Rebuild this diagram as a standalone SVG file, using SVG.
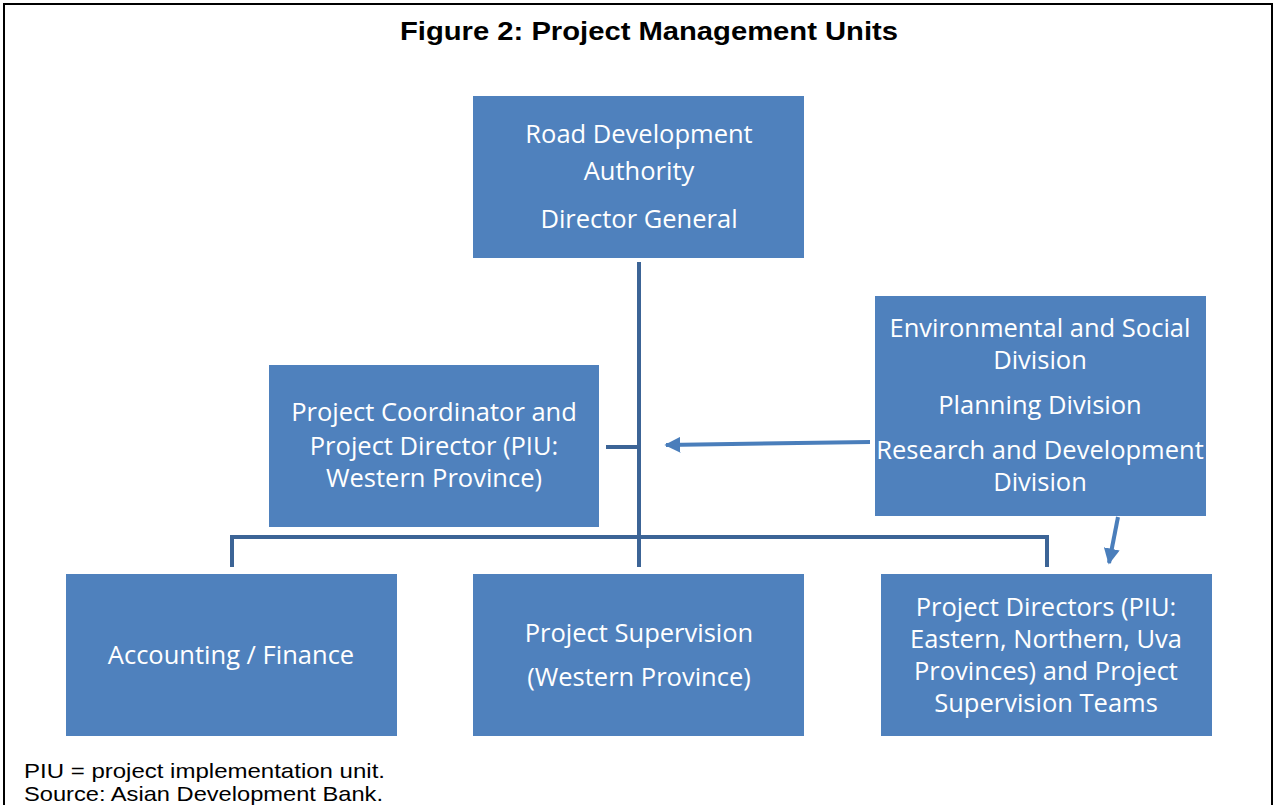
<svg xmlns="http://www.w3.org/2000/svg" width="1276" height="805" viewBox="0 0 1276 805">
<style>
.box{fill:#4F81BD}
.t{font-family:"Open Sans","Liberation Sans",sans-serif;font-size:25.5px;fill:#fff;text-anchor:middle}
.ln{stroke:#3C6496;stroke-width:4;fill:none}
.ar{stroke:#4A7EBB;stroke-width:4;fill:none}
.foot{font-family:"Liberation Sans",Arial,sans-serif;font-size:21px;fill:#000}
</style>
<defs>
<marker id="ah" viewBox="0 0 10 10" refX="9" refY="5" markerWidth="4" markerHeight="4" orient="auto" markerUnits="strokeWidth">
<path d="M0,0 L10,5 L0,10 Z" fill="#4A7EBB"/>
</marker>
</defs>
<rect width="1276" height="805" fill="#fff"/>
<path d="M4,805 V4 H1272 V805" fill="none" stroke="#000" stroke-width="2"/>
<text x="400" y="40" font-family="Liberation Sans,Arial,sans-serif" font-size="26" font-weight="bold" textLength="498" lengthAdjust="spacingAndGlyphs">Figure 2: Project Management Units</text>
<g id="connectors">
<line class="ln" x1="639" y1="262" x2="639" y2="567"/>
<path class="ln" d="M232,567 V537 H1047 V567"/>
<line class="ln" x1="606" y1="447" x2="639" y2="447"/>
<line class="ar" x1="870" y1="442" x2="666" y2="445" marker-end="url(#ah)"/>
<line class="ar" x1="1118" y1="517" x2="1109" y2="563" marker-end="url(#ah)"/>
</g>
<g id="rda">
<rect class="box" x="473" y="96" width="331" height="162"/>
<text class="t" x="639" y="143">Road Development</text>
<text class="t" x="639" y="180">Authority</text>
<text class="t" x="639" y="228">Director General</text>
</g>
<g id="pc">
<rect class="box" x="269" y="365" width="330" height="162"/>
<text class="t" x="434" y="421">Project Coordinator and</text>
<text class="t" x="434" y="455">Project Director (PIU:</text>
<text class="t" x="434" y="487">Western Province)</text>
</g>
<g id="env">
<rect class="box" x="875" y="296" width="331" height="220"/>
<text class="t" x="1040" y="337">Environmental and Social</text>
<text class="t" x="1040" y="369">Division</text>
<text class="t" x="1040" y="414">Planning Division</text>
<text class="t" x="1040" y="459">Research and Development</text>
<text class="t" x="1040" y="491">Division</text>
</g>
<g id="acc">
<rect class="box" x="66" y="574" width="331" height="162"/>
<text class="t" x="231" y="664">Accounting / Finance</text>
</g>
<g id="sup">
<rect class="box" x="473" y="574" width="331" height="162"/>
<text class="t" x="639" y="642">Project Supervision</text>
<text class="t" x="639" y="686">(Western Province)</text>
</g>
<g id="pd">
<rect class="box" x="881" y="574" width="331" height="162"/>
<text class="t" x="1046" y="616">Project Directors (PIU:</text>
<text class="t" x="1046" y="648">Eastern, Northern, Uva</text>
<text class="t" x="1046" y="680">Provinces) and Project</text>
<text class="t" x="1046" y="712">Supervision Teams</text>
</g>
<text class="foot" x="24" y="778" textLength="361" lengthAdjust="spacingAndGlyphs">PIU = project implementation unit.</text>
<text class="foot" x="24" y="801" textLength="359" lengthAdjust="spacingAndGlyphs">Source: Asian Development Bank.</text>
</svg>
